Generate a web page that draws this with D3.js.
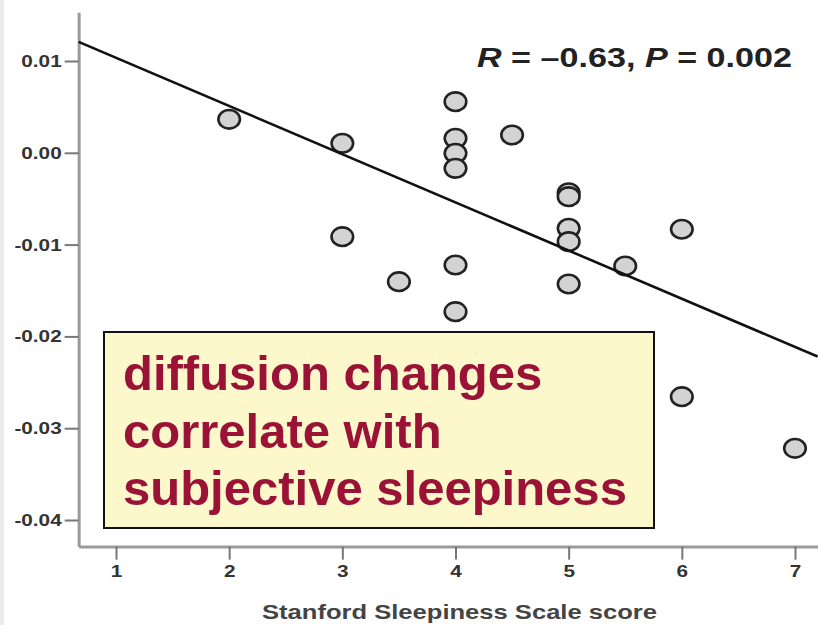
<!DOCTYPE html>
<html>
<head>
<meta charset="utf-8">
<script src="https://cdn.jsdelivr.net/npm/d3@7"></script>
<style>
  html, body { margin: 0; padding: 0; background: #fff; }
  svg { display: block; font-family: "Liberation Sans", Arial, sans-serif; }
</style>
</head>
<body>
<div id="chart"></div>
<script>
const width = 818, height = 625;

// data
const sssScore = [2, 3, 3, 3.5, 4, 4, 4, 4, 4, 4, 4.5, 5, 5, 5, 5, 5, 5.5, 6, 6, 7];
const diffChange = [0.00365, 0.00103, -0.00914, -0.01404, 0.00557, 0.00158, -0.00005, -0.00169,
  -0.01222, -0.01731, 0.00194, -0.00435, -0.00478, -0.00822, -0.00968, -0.01429, -0.01233,
  -0.00833, -0.02657, -0.03219];
const xTicks = [1, 2, 3, 4, 5, 6, 7];
const yTicks = [-0.04, -0.03, -0.02, -0.01, 0, 0.01];
const xExtent = [0.67, 7.2];
const yExtent = [-0.0429, 0.0153];
const fitIntercept = 0.0156, fitSlope = -0.00525;
const statsLabel = ["R", " = \u20130.63, ", "P", " = 0.002"];
const boxLines = ["diffusion changes", "correlate with", "subjective sleepiness"];
const xTitle = "Stanford Sleepiness Scale score";

const points = sssScore.map((s, i) => ({ s, v: diffChange[i] }));

const svg = d3.select("#chart").append("svg")
  .attr("width", width)
  .attr("height", height);

svg.append("rect").attr("width", width).attr("height", height).attr("fill", "#fff");
svg.append("rect").attr("width", 4).attr("height", height).attr("fill", "#ebebeb");

const x = d3.scaleLinear().domain([1, 7]).range([116, 795]);
const y = d3.scaleLinear().domain([-0.04, 0.01]).range([520, 61]);

// axis scales stretched to the full frame
const xa = x.copy().domain(xExtent).range(xExtent.map(x));
const ya = y.copy().domain(yExtent).range(yExtent.map(y));
const sx = 1.22; // the figure's lettering is wide

const yAxis = svg.append("g")
  .attr("transform", `translate(${x(xExtent[0])},0)`)
  .call(d3.axisLeft(ya)
    .tickValues(yTicks)
    .tickSize(14)
    .tickSizeOuter(0)
    .tickFormat(d => d3.format(".2f")(d).replace("\u2212", "-")));

const xAxis = svg.append("g")
  .attr("transform", `translate(0,${y(yExtent[0])})`)
  .call(d3.axisBottom(xa)
    .tickValues(xTicks)
    .tickSize(13)
    .tickSizeOuter(0)
    .tickPadding(5.5)
    .tickFormat(d3.format("d")));

[yAxis, xAxis].forEach(g => {
  g.select(".domain").attr("stroke", "#9a9a9a").attr("stroke-width", 3);
  g.selectAll(".tick line").attr("stroke", "#777").attr("stroke-width", 2);
  g.selectAll(".tick text")
    .attr("fill", "#333")
    .attr("font-size", 17)
    .attr("font-weight", "bold")
    .attr("font-family", "'Liberation Sans', Arial, sans-serif");
});
yAxis.selectAll(".tick text")
  .attr("x", -17 / sx)
  .attr("transform", `scale(${sx},1)`);
xAxis.selectAll(".tick text")
  .attr("transform", `scale(${sx},1)`);

// points
svg.append("g")
  .selectAll("ellipse")
  .data(points)
  .join("ellipse")
  .attr("cx", d => x(d.s))
  .attr("cy", d => y(d.v))
  .attr("rx", 10.8)
  .attr("ry", 9.3)
  .attr("fill", "#d3d3d3")
  .attr("stroke", "#222")
  .attr("stroke-width", 2.6);

// fit line
const fit = xExtent.map(s => [s, fitIntercept + fitSlope * s]);
svg.append("path")
  .attr("d", d3.line().x(d => x(d[0])).y(d => y(d[1]))(fit))
  .attr("fill", "none")
  .attr("stroke", "#111")
  .attr("stroke-width", 2.6);

// stats
const stats = svg.append("text")
  .attr("x", 477)
  .attr("y", 67)
  .attr("font-size", 27)
  .attr("font-weight", "bold")
  .attr("fill", "#222")
  .attr("textLength", 315)
  .attr("lengthAdjust", "spacingAndGlyphs");
statsLabel.forEach((t, i) => {
  stats.append("tspan")
    .attr("font-style", i % 2 === 0 ? "italic" : "normal")
    .text(t);
});

// x title
svg.append("text")
  .attr("x", 262)
  .attr("y", 619)
  .attr("font-size", 21)
  .attr("font-weight", "bold")
  .attr("fill", "#444")
  .attr("textLength", 395)
  .attr("lengthAdjust", "spacingAndGlyphs")
  .text(xTitle);

// note box
svg.append("rect")
  .attr("x", 104)
  .attr("y", 332)
  .attr("width", 550)
  .attr("height", 196)
  .attr("fill", "#fdf8cb")
  .attr("stroke", "#111")
  .attr("stroke-width", 2);

svg.append("g")
  .selectAll("text")
  .data(boxLines)
  .join("text")
  .attr("x", 123)
  .attr("y", (d, i) => 390 + i * 57.5)
  .attr("font-size", 49)
  .attr("font-weight", "bold")
  .attr("fill", "#9a1236")
  .text(d => d);
</script>
</body>
</html>
